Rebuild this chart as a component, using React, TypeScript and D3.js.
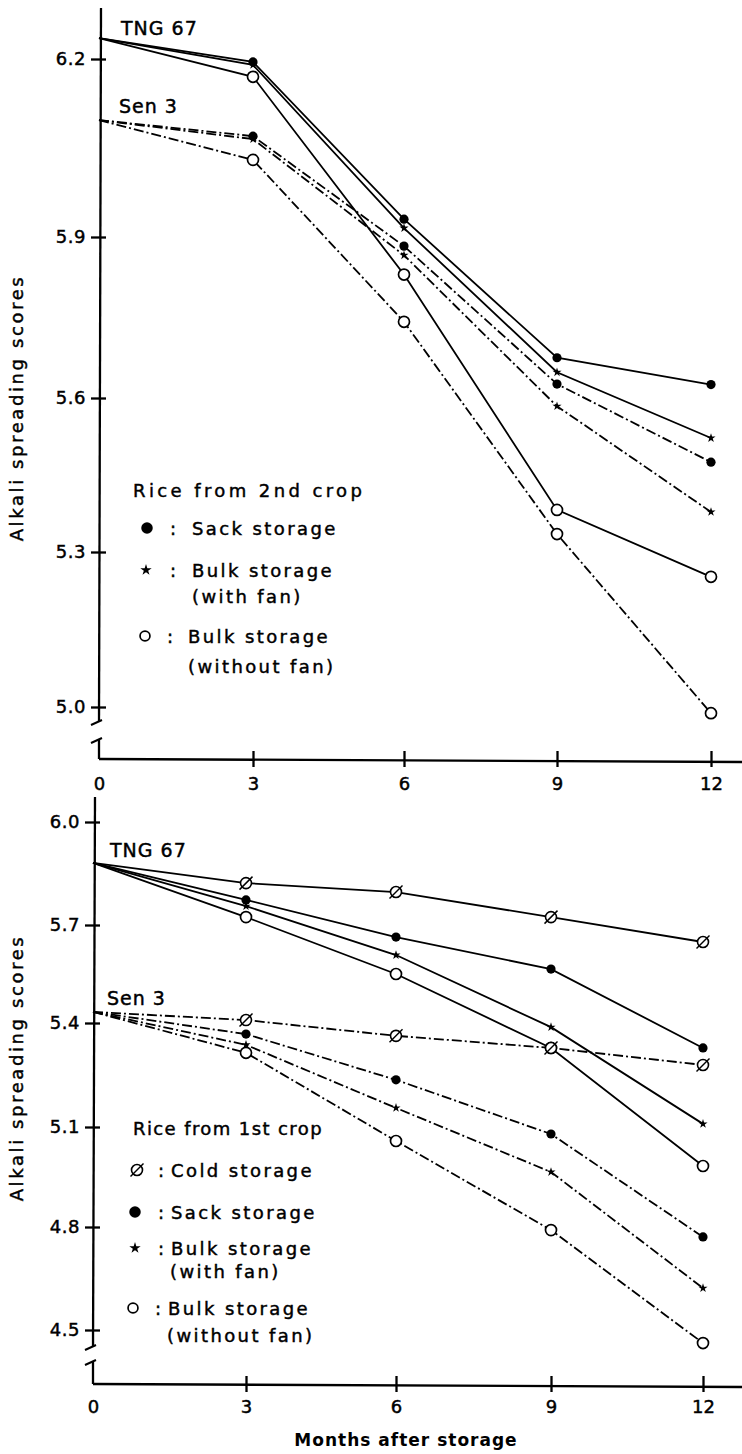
import React, { useEffect, useRef } from 'react';
import * as d3 from 'd3';

// months after storage
const months = [0, 3, 6, 9, 12];

// Upper panel: rice from 2nd crop
const upperTicks = [5.0, 5.3, 5.6, 5.9, 6.2];
const tng2Sack = [6.235, 6.195, 5.93, 5.675, 5.625];
const tng2BulkFan = [6.235, 6.19, 5.915, 5.648, 5.522];
const tng2BulkNoFan = [6.235, 6.17, 5.83, 5.382, 5.252];
const sen2Sack = [6.097, 6.07, 5.883, 5.626, 5.475];
const sen2BulkFan = [6.097, 6.065, 5.866, 5.584, 5.378];
const sen2BulkNoFan = [6.097, 6.03, 5.742, 5.335, 4.988];

// Lower panel: rice from 1st crop
const lowerTicks = [4.5, 4.8, 5.1, 5.4, 5.7, 6.0];
const tng1Cold = [5.881, 5.822, 5.796, 5.723, 5.648];
const tng1Sack = [5.881, 5.773, 5.663, 5.565, 5.328];
const tng1BulkFan = [5.881, 5.755, 5.608, 5.388, 5.109];
const tng1BulkNoFan = [5.881, 5.723, 5.55, 5.328, 4.983];
const sen1Cold = [5.434, 5.409, 5.363, 5.328, 5.279];
const sen1Sack = [5.434, 5.368, 5.236, 5.079, 4.771];
const sen1BulkFan = [5.434, 5.337, 5.155, 4.965, 4.622];
const sen1BulkNoFan = [5.434, 5.314, 5.058, 4.791, 4.462];

const upperLegend = ['Rice from 2nd crop', 'Sack storage', 'Bulk storage', '(with fan)', 'Bulk storage', '(without fan)'];
const lowerLegend = ['Rice from 1st crop', 'Cold storage', 'Sack storage', 'Bulk storage', '(with fan)', 'Bulk storage', '(without fan)'];

const FONT = '"DejaVu Sans", sans-serif';
const DASHDOT = '10,3,2,3';

type Marker = 'sack' | 'fan' | 'nofan' | 'cold';

// heavier text, like the printed figure
function ink(t: any, size: number, spacing = 0) {
  return t.attr('font-family', FONT).attr('font-size', size).attr('fill', '#000')
    .attr('stroke', '#000').attr('stroke-width', 0.45).attr('letter-spacing', spacing);
}

// draws one marker symbol at (x, y)
function drawMarker(g: any, type: Marker, x: number, y: number, big = false) {
  const s = big ? 1.25 : 1;
  if (type === 'sack') {
    g.append('circle').attr('cx', x).attr('cy', y).attr('r', 4.6 * s).attr('fill', '#000');
  } else if (type === 'nofan') {
    g.append('circle').attr('cx', x).attr('cy', y).attr('r', 5.5 * (big ? 0.9 : 1))
      .attr('fill', '#fff').attr('stroke', '#000').attr('stroke-width', 1.7);
  } else if (type === 'fan') {
    g.append('path').attr('d', d3.symbol(d3.symbolStar, big ? 40 : 26)())
      .attr('transform', `translate(${x},${y})`).attr('fill', '#000');
  } else {
    g.append('circle').attr('cx', x).attr('cy', y).attr('r', 5.5)
      .attr('fill', '#fff').attr('stroke', '#000').attr('stroke-width', 1.6);
    g.append('line').attr('x1', x - 6.5).attr('y1', y + 6.5).attr('x2', x + 6.5).attr('y2', y - 6.5)
      .attr('stroke', '#000').attr('stroke-width', 1.5);
  }
}

function drawPanel(svg: any, p: any) {
  const g = svg.append('g');
  const x = d3.scaleLinear().domain(months).range(p.xRange);
  const y = d3.scaleLinear().domain(p.ticks).range(p.yRange);

  // axis lines with break marks
  const ax = p.axisX;
  g.append('line').attr('x1', ax + 2).attr('y1', p.axisTop).attr('x2', ax).attr('y2', p.break1)
    .attr('stroke', '#000').attr('stroke-width', 2.3);
  g.append('line').attr('x1', ax).attr('y1', p.break2).attr('x2', ax).attr('y2', p.baseY)
    .attr('stroke', '#000').attr('stroke-width', 2.3);
  [p.break1, p.break2].forEach((b: number) => {
    g.append('line').attr('x1', ax - 8).attr('y1', b + 3).attr('x2', ax + 3).attr('y2', b - 2)
      .attr('stroke', '#000').attr('stroke-width', 2);
  });
  g.append('line').attr('x1', ax).attr('y1', p.baseY).attr('x2', 742).attr('y2', p.baseY + 3)
    .attr('stroke', '#000').attr('stroke-width', 2.3);

  // y axis ticks and labels
  const yAxis = d3.axisLeft(y).tickValues(p.ticks).tickFormat(d3.format('.1f')).tickSize(8).tickPadding(5);
  const $y = g.append('g').attr('transform', `translate(${ax},0)`).call(yAxis);
  $y.select('.domain').remove();
  $y.selectAll('.tick line').attr('stroke-width', 2.3).attr('x2', -8);
  $y.selectAll('.tick').append('line').attr('x2', 7).attr('stroke', '#000').attr('stroke-width', 2.3);
  ink($y.selectAll('.tick text'), 18, 0.5);

  // x axis ticks and labels
  const xAxis = d3.axisBottom(x).tickValues(months).tickFormat(d3.format('d')).tickSize(8);
  const $x = g.append('g').attr('transform', `translate(0,${p.baseY})`).call(xAxis);
  $x.select('.domain').remove();
  $x.selectAll('.tick line').attr('stroke-width', 2.3).attr('y1', -8);
  ink($x.selectAll('.tick text'), 18).attr('y', p.labelDy).attr('dy', 0);
  $x.selectAll('.tick').filter((d: number) => d === 0).select('line').remove();

  // series
  const line = d3.line<number>().x((_, i) => x(months[i])).y(d => y(d));
  p.series.forEach((s: any) => {
    g.append('path').datum(s.values).attr('d', line).attr('fill', 'none')
      .attr('stroke', '#000').attr('stroke-width', 1.8)
      .attr('stroke-dasharray', s.dashed ? DASHDOT : null);
  });
  p.series.forEach((s: any) => {
    s.values.forEach((v: number, i: number) => {
      if (i > 0) drawMarker(g, s.marker, x(months[i]), y(v));
    });
  });

  // variety labels
  p.labels.forEach((l: any) => {
    ink(g.append('text').attr('x', l.x).attr('y', l.y).text(l.text), 19, 1);
  });

  // y title
  ink(g.append('text').attr('transform', `translate(23,${p.titleY}) rotate(-90)`)
    .attr('text-anchor', 'middle').text('Alkali spreading scores'), 18, 2.6);

  // legend
  p.legend.forEach((r: any) => {
    ink(g.append('text').attr('x', r.x).attr('y', r.y).text(r.text), 18, r.sp ?? 2.4);
    if (r.marker) {
      drawMarker(g, r.marker, r.mx, r.y - 7, true);
      ink(g.append('text').attr('x', r.cx).attr('y', r.y).text(':'), 18);
    }
  });
}

const App = () => {
  const ref = useRef<SVGSVGElement | null>(null);

  useEffect(() => {
    const svg = d3.select(ref.current);
    svg.selectAll('*').remove();

    drawPanel(svg, {
      ticks: upperTicks,
      yRange: [707, 552, 398, 237, 59],
      xRange: [99, 253, 404, 557, 711],
      axisX: 99, axisTop: 8, break1: 722, break2: 740, baseY: 759, labelDy: 31,
      titleY: 408,
      series: [
        { values: tng2Sack, marker: 'sack', dashed: false },
        { values: tng2BulkFan, marker: 'fan', dashed: false },
        { values: tng2BulkNoFan, marker: 'nofan', dashed: false },
        { values: sen2Sack, marker: 'sack', dashed: true },
        { values: sen2BulkFan, marker: 'fan', dashed: true },
        { values: sen2BulkNoFan, marker: 'nofan', dashed: true },
      ],
      labels: [{ text: 'TNG 67', x: 121, y: 35 }, { text: 'Sen 3', x: 119, y: 113 }],
      legend: [
        { text: upperLegend[0], x: 133, y: 497, sp: 3.4 },
        { text: upperLegend[1], x: 192, y: 535, marker: 'sack', mx: 147, cx: 170 },
        { text: upperLegend[2], x: 192, y: 577, marker: 'fan', mx: 146, cx: 170 },
        { text: upperLegend[3], x: 192, y: 603 },
        { text: upperLegend[4], x: 188, y: 643, marker: 'nofan', mx: 145, cx: 167 },
        { text: upperLegend[5], x: 188, y: 673 },
      ],
    });

    drawPanel(svg, {
      ticks: lowerTicks,
      yRange: [1330, 1227, 1127, 1023, 925, 822],
      xRange: [93, 246, 396, 551, 703],
      axisX: 93, axisTop: 797, break1: 1347, break2: 1362, baseY: 1384, labelDy: 29,
      titleY: 1068,
      series: [
        { values: tng1Cold, marker: 'cold', dashed: false },
        { values: tng1Sack, marker: 'sack', dashed: false },
        { values: tng1BulkFan, marker: 'fan', dashed: false },
        { values: tng1BulkNoFan, marker: 'nofan', dashed: false },
        { values: sen1Cold, marker: 'cold', dashed: true },
        { values: sen1Sack, marker: 'sack', dashed: true },
        { values: sen1BulkFan, marker: 'fan', dashed: true },
        { values: sen1BulkNoFan, marker: 'nofan', dashed: true },
      ],
      labels: [{ text: 'TNG 67', x: 110, y: 857 }, { text: 'Sen 3', x: 107, y: 1005 }],
      legend: [
        { text: lowerLegend[0], x: 133, y: 1135, sp: 1.4 },
        { text: lowerLegend[1], x: 171, y: 1177, marker: 'cold', mx: 137, cx: 158 },
        { text: lowerLegend[2], x: 171, y: 1219, marker: 'sack', mx: 135, cx: 158 },
        { text: lowerLegend[3], x: 171, y: 1255, marker: 'fan', mx: 135, cx: 158 },
        { text: lowerLegend[4], x: 170, y: 1278 },
        { text: lowerLegend[5], x: 168, y: 1315, marker: 'nofan', mx: 133, cx: 155 },
        { text: lowerLegend[6], x: 167, y: 1342 },
      ],
    });

    svg.append('text').attr('x', 406).attr('y', 1446).attr('text-anchor', 'middle')
      .attr('font-family', FONT).attr('font-size', 17).attr('font-weight', 'bold')
      .attr('letter-spacing', 1).text('Months after storage');
  }, []);

  return (
    <svg ref={ref} width={742} height={1454}
      style={{ position: 'absolute', left: 0, top: 0, background: '#fff' }} />
  );
};

export default App;
